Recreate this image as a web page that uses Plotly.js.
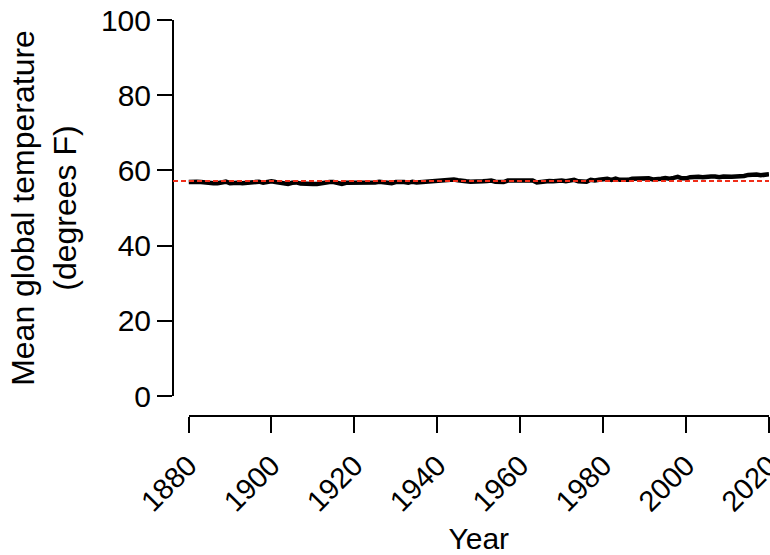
<!DOCTYPE html>
<html>
<head>
<meta charset="utf-8">
<script src="https://cdn.plot.ly/plotly-3.0.1.min.js"></script>
<style>html,body{margin:0;padding:0;background:#fff;}#chart{width:770px;height:555px;}</style>
</head>
<body>
<div id="chart"></div>
<script>
const years = [1880,1881,1882,1883,1884,1885,1886,1887,1888,1889,1890,1891,1892,1893,1894,1895,1896,1897,1898,1899,
1900,1901,1902,1903,1904,1905,1906,1907,1908,1909,1910,1911,1912,1913,1914,1915,1916,1917,1918,1919,
1920,1921,1922,1923,1924,1925,1926,1927,1928,1929,1930,1931,1932,1933,1934,1935,1936,1937,1938,1939,
1940,1941,1942,1943,1944,1945,1946,1947,1948,1949,1950,1951,1952,1953,1954,1955,1956,1957,1958,1959,
1960,1961,1962,1963,1964,1965,1966,1967,1968,1969,1970,1971,1972,1973,1974,1975,1976,1977,1978,1979,
1980,1981,1982,1983,1984,1985,1986,1987,1988,1989,1990,1991,1992,1993,1994,1995,1996,1997,1998,1999,
2000,2001,2002,2003,2004,2005,2006,2007,2008,2009,2010,2011,2012,2013,2014,2015,2016,2017,2018,2019,2020];
const tempF = [56.9,57.0,57.0,56.9,56.7,56.6,56.6,56.6,56.9,57.0,56.6,56.8,56.7,56.6,56.7,56.8,57.0,57.0,56.7,56.9,
57.1,56.9,56.7,56.5,56.4,56.7,56.8,56.5,56.4,56.3,56.4,56.4,56.6,56.6,56.9,56.9,56.6,56.4,56.7,56.7,
56.7,56.9,56.7,56.7,56.7,56.8,57.0,56.8,56.8,56.6,56.9,57.0,56.9,56.7,57.0,56.8,56.9,57.1,57.2,57.2,
57.4,57.5,57.3,57.4,57.6,57.4,57.1,57.1,57.0,57.0,56.9,57.1,57.2,57.3,57.0,56.9,56.9,57.3,57.3,57.3,
57.1,57.3,57.3,57.3,56.8,57.0,57.1,57.2,57.1,57.3,57.3,57.1,57.2,57.5,57.1,57.2,57.0,57.5,57.3,57.5,
57.7,57.8,57.5,57.8,57.5,57.4,57.5,57.8,57.9,57.7,58.0,57.9,57.6,57.6,57.8,58.0,57.8,58.0,58.3,57.9,
57.9,58.2,58.3,58.3,58.2,58.4,58.4,58.4,58.2,58.4,58.5,58.3,58.4,58.4,58.5,58.8,59.0,58.9,58.7,59.0,59.0];
const baselineF = [57.2];
const xTicks = [1880,1900,1920,1940,1960,1980,2000,2020];
const yTicks = [0,20,40,60,80,100];

const W = 770, H = 555;
const yAxisPx = 173, xAxisPx = 416;
const fontFam = '"Liberation Sans", Arial, Helvetica, sans-serif';

const traces = [{
  x: years, y: tempF, type: 'scatter', mode: 'lines',
  line: {color: '#000000', width: 4.5}, hoverinfo: 'skip', showlegend: false
}];

const layout = {
  width: W, height: H,
  margin: {l: 0, r: 0, t: 0, b: 0, pad: 0},
  paper_bgcolor: '#ffffff', plot_bgcolor: 'rgba(0,0,0,0)',
  font: {family: fontFam, color: '#000000', size: 30},
  showlegend: false,
  xaxis: {
    domain: [188.5 / W, 769 / W], range: [1880, 2020],
    anchor: 'free', position: (H - xAxisPx) / H,
    tickmode: 'array', tickvals: xTicks, ticktext: xTicks.map(String),
    tickangle: -45, ticks: 'outside', ticklen: 16, tickwidth: 2, tickcolor: '#000',
    ticklabeloverflow: 'allow', ticklabelstandoff: 4,
    showline: true, linecolor: '#000', linewidth: 2,
    showgrid: false, zeroline: false,
    tickfont: {size: 29, family: fontFam, color: '#000'},
    title: {text: 'Year', font: {size: 30, family: fontFam, color: '#000'}, standoff: 12}
  },
  yaxis: {
    domain: [(H - 396) / H, (H - 20) / H], range: [0, 100],
    anchor: 'free', position: yAxisPx / W,
    tickmode: 'array', tickvals: yTicks, ticktext: yTicks.map(String),
    ticks: 'outside', ticklen: 15, tickwidth: 2, tickcolor: '#000',
    showline: true, linecolor: '#000', linewidth: 2,
    showgrid: false, zeroline: false,
    tickfont: {size: 30, family: fontFam, color: '#000'},
    title: {text: 'Mean global temperature<br>(degrees F)', font: {size: 32, family: fontFam, color: '#000'}, standoff: 14}
  },
  shapes: [{
    type: 'line', layer: 'above',
    xref: 'paper', x0: yAxisPx / W, x1: 769 / W,
    yref: 'y', y0: baselineF[0], y1: baselineF[0],
    line: {color: 'rgb(240,45,25)', width: 2, dash: '5px,3px'}
  }]
};

Plotly.newPlot('chart', traces, layout, {staticPlot: true, displayModeBar: false});
</script>
</body>
</html>
